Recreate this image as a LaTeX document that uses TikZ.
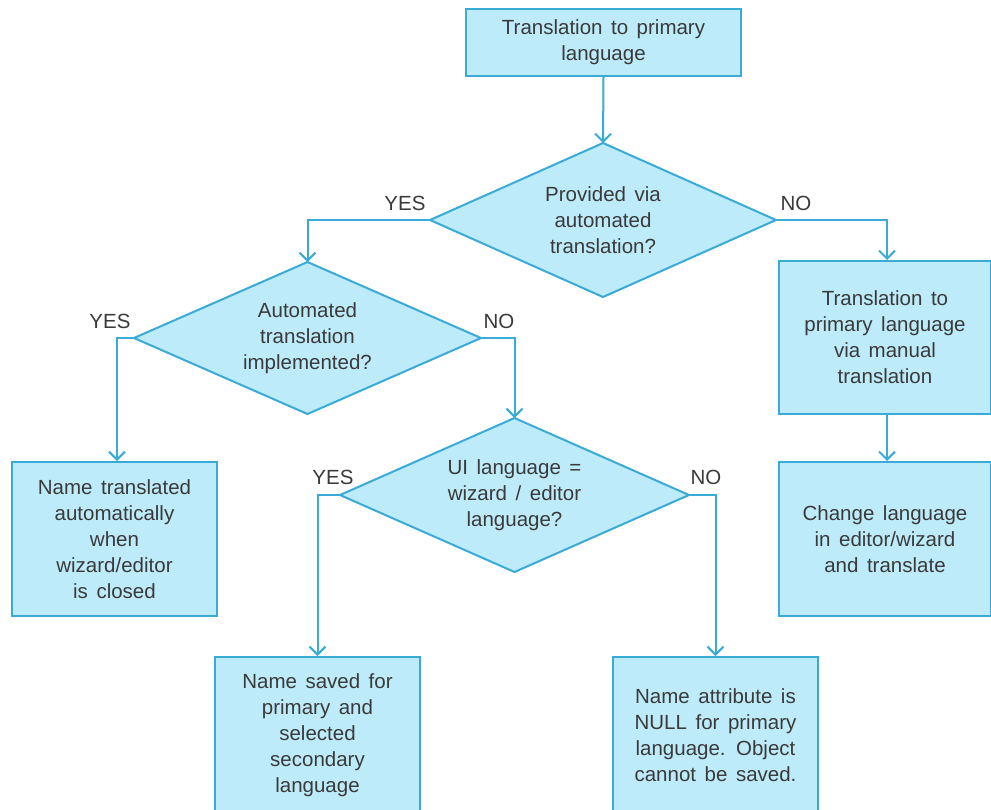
\documentclass[tikz,border=0pt]{standalone}
\usepackage{fontspec}
\setmainfont[WordSpace={1.5,1,1}]{Liberation Sans}
\usetikzlibrary{shapes.geometric,arrows.meta}
\definecolor{boxfill}{HTML}{BDEBFA}
\definecolor{boxline}{HTML}{3AAAD6}
\definecolor{txt}{HTML}{3A3A3A}
\tikzset{
  every node/.style={text=txt,font=\fontsize{20.5}{26}\selectfont},
  procbox/.style={draw=boxline,fill=boxfill,line width=2pt,inner sep=0pt,align=center},
  decision/.style={draw=boxline,fill=boxfill,line width=2pt,shape=diamond,aspect=2.25,inner sep=0pt,outer sep=0pt,align=center,minimum width=346pt,minimum height=154pt},
  conn/.style={draw=boxline,line width=2pt,-{Straight Barb[length=8pt,width=16pt,line width=2pt]}},
  lbl/.style={inner sep=0pt}
}
\begin{document}
\begin{tikzpicture}[x=1pt,y=-1pt]
\useasboundingbox (0,0) rectangle (991,809);
\clip (0,0) rectangle (991,809);
\fill[white] (0,0) rectangle (991,809);
% boxes
\node[procbox,minimum width=275pt,minimum height=67pt] (top) at (603.5,42.5) {Translation to primary\\language};
\node[decision] (d1) at (603,220) {Provided via\\automated\\translation?};
\node[decision,minimum width=347pt,minimum height=152pt] (d2) at (307.5,338) {Automated\\translation\\implemented?};
\node[decision,minimum width=349pt,minimum height=154pt] (d3) at (514.5,495) {UI language =\\wizard / editor\\language?};
\node[procbox,minimum width=212pt,minimum height=153pt] (r1) at (885,337.5) {Translation to\\primary language\\via manual\\translation};
\node[procbox,minimum width=212pt,minimum height=154pt] (r2) at (885,539) {Change language\\in editor/wizard\\and translate};
\node[procbox,minimum width=205pt,minimum height=154pt] (l1) at (114.5,539) {Name translated\\automatically\\when\\wizard/editor\\is closed};
\node[procbox,minimum width=205pt,minimum height=156pt] (b1) at (317.5,735) {Name saved for\\primary and\\selected\\secondary\\language};
\node[procbox,minimum width=205pt,minimum height=156pt] (b2) at (715.5,735) {Name attribute is\\NULL for primary\\language. Object\\cannot be saved.};
% connectors
\draw[conn] (top.south) -- (d1.north);
\draw[conn] (d1.west) -| (d2.north);
\draw[conn] (d1.east) -| (r1.north -| 887,0);
\draw[conn] (d2.west) -| (l1.north -| 117,0);
\draw[conn] (d2.east) -| (d3.north);
\draw[conn] (r1.south -| 887,0) -- (r2.north -| 887,0);
\draw[conn] (d3.west) -| (b1.north);
\draw[conn] (d3.east) -| (b2.north);
% labels
\node[lbl] (y1) at (405,203) {YES};
\node[lbl] (n1) at (796,203) {NO};
\node[lbl] (y2) at (110,321) {YES};
\node[lbl] (n2) at (499,321) {NO};
\node[lbl] (y3) at (333,477) {YES};
\node[lbl] (n3) at (706,477) {NO};
\end{tikzpicture}
\end{document}
